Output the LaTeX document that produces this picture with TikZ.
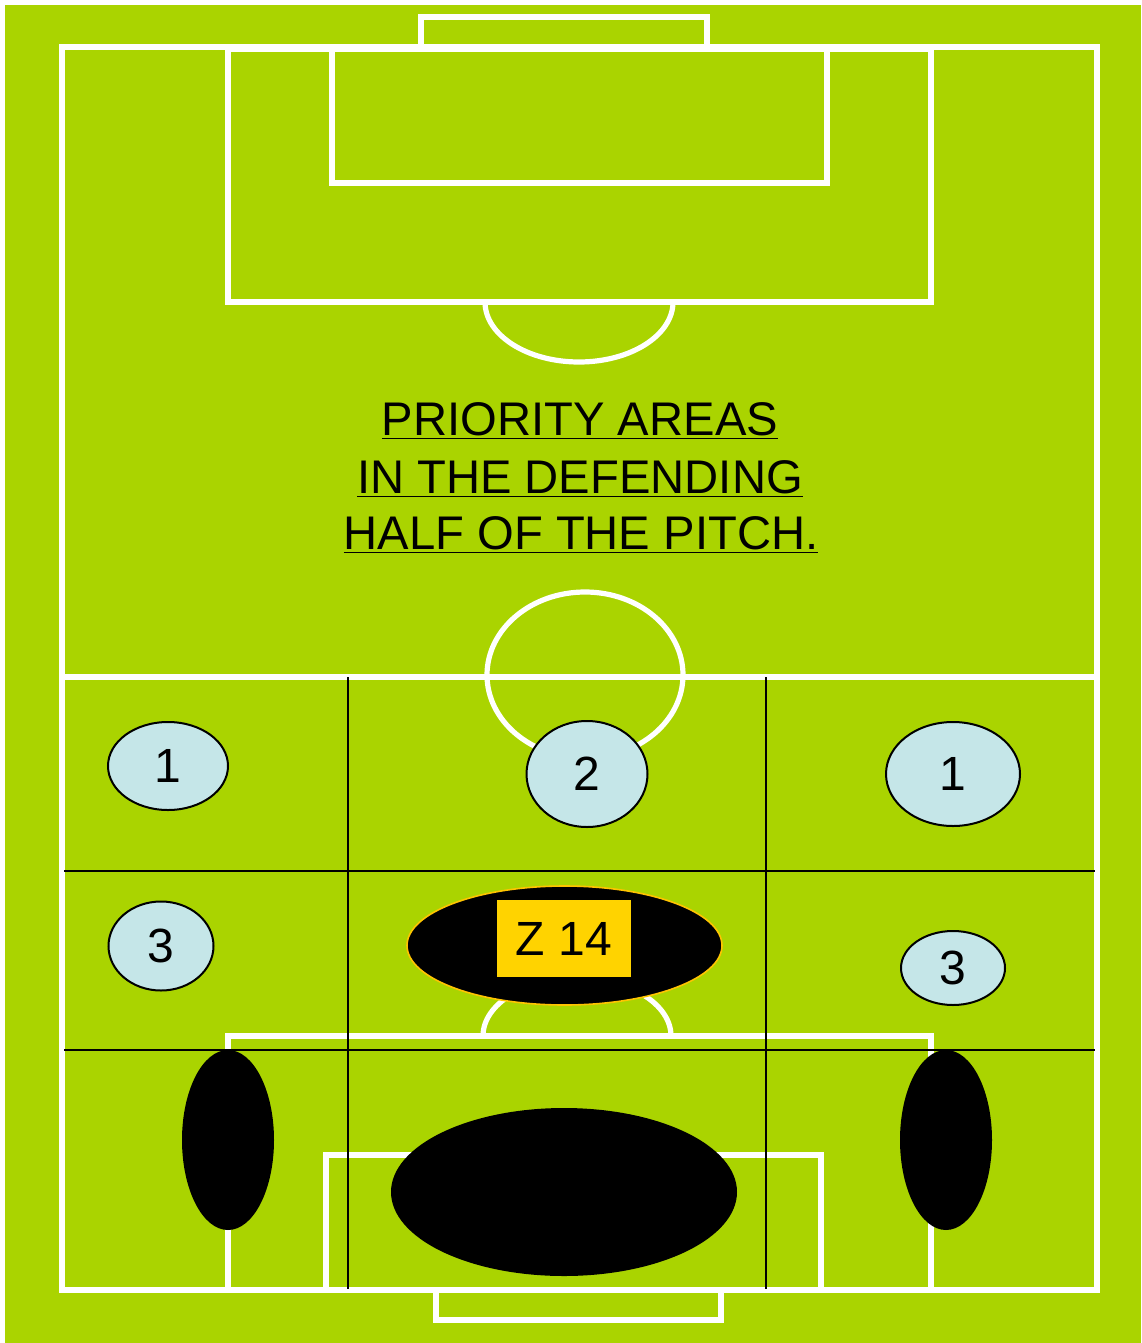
\documentclass[tikz,border=0pt]{standalone}
\usepackage{fontspec}
\setmainfont{Liberation Sans}
\usetikzlibrary{shapes.geometric}
\definecolor{pitch}{RGB}{170,212,0}
\definecolor{zone}{RGB}{197,230,232}
\definecolor{zgold}{RGB}{255,211,0}
\definecolor{zedge}{RGB}{255,196,0}
\tikzset{
  whiteline/.style={draw=white, line width=2.6pt},
  gridline/.style={draw=black, line width=1.2pt},
  zonebubble/.style={ellipse, draw=black, line width=1pt, fill=zone, inner sep=0pt,
    font=\fontsize{24}{28}\selectfont},
  hotspot/.style={ellipse, fill=black, inner sep=0pt},
  titleline/.style={anchor=base, inner sep=0pt, font=\fontsize{23.6}{28}\selectfont}
}
\begin{document}
\begin{tikzpicture}[x=0.5pt, y=-0.5pt]
\useasboundingbox (0,0) rectangle (1141,1343);
\fill[white] (0,0) rectangle (1141,1343);
\fill[pitch] (5,5) rectangle (1141,1343);
% pitch markings
\draw[whiteline] (62,47) rectangle (1097,1290);
\draw[whiteline] (421,17) rectangle (707,47);
\draw[whiteline] (228,49) rectangle (931,302);
\draw[whiteline] (332,49) rectangle (827,183);
\draw[whiteline] (485,302) arc[start angle=180, end angle=0, x radius=94, y radius=60];
\draw[whiteline] (62,677) -- (1097,677);
\draw[whiteline] (585,675) ellipse[x radius=98, y radius=83];
\draw[whiteline] (228,1036) rectangle (931,1290);
\draw[whiteline] (326,1155) rectangle (821,1290);
\draw[whiteline] (436,1290) rectangle (721,1320);
\draw[whiteline] (671,1036) arc[start angle=0, end angle=-180, x radius=94, y radius=58];
% zone grid
\draw[gridline] (348,677) -- (348,1289);
\draw[gridline] (766,677) -- (766,1289);
\draw[gridline] (64,871) -- (1095,871);
\draw[gridline] (64,1050) -- (1095,1050);
% title
\node[titleline] (t1) at (580,435) {\underline{PRIORITY AREAS}};
\node[titleline] (t2) at (580,493) {\underline{IN THE DEFENDING}};
\node[titleline] (t3) at (581,549) {\underline{HALF OF THE PITCH.}};
% zones
\node[zonebubble, minimum width=60pt, minimum height=44pt] (z1l) at (168,766) {1};
\node[zonebubble, minimum width=60.5pt, minimum height=53pt] (z2) at (587,774) {2};
\node[zonebubble, minimum width=67pt, minimum height=52pt] (z1r) at (953,774) {1};
\node[zonebubble, minimum width=52.5pt, minimum height=44.5pt] (z3l) at (161,946) {3};
\node[zonebubble, minimum width=52pt, minimum height=37pt] (z3r) at (953,968) {3};
\node[hotspot, draw=zedge, line width=0.8pt, minimum width=157.5pt, minimum height=59.5pt] (z14) at (564.5,945.5) {};
\node[fill=zgold, minimum width=67pt, minimum height=38.5pt, inner sep=0pt,
  font=\fontsize{24}{28}\selectfont] (z14lbl) at (564,938.5) {Z 14};
\node[hotspot, minimum width=46pt, minimum height=90pt] (wl) at (228,1140) {};
\node[hotspot, minimum width=46pt, minimum height=90pt] (wr) at (946,1140) {};
\node[hotspot, minimum width=173pt, minimum height=84pt] (box) at (564,1192) {};
\end{tikzpicture}
\end{document}
